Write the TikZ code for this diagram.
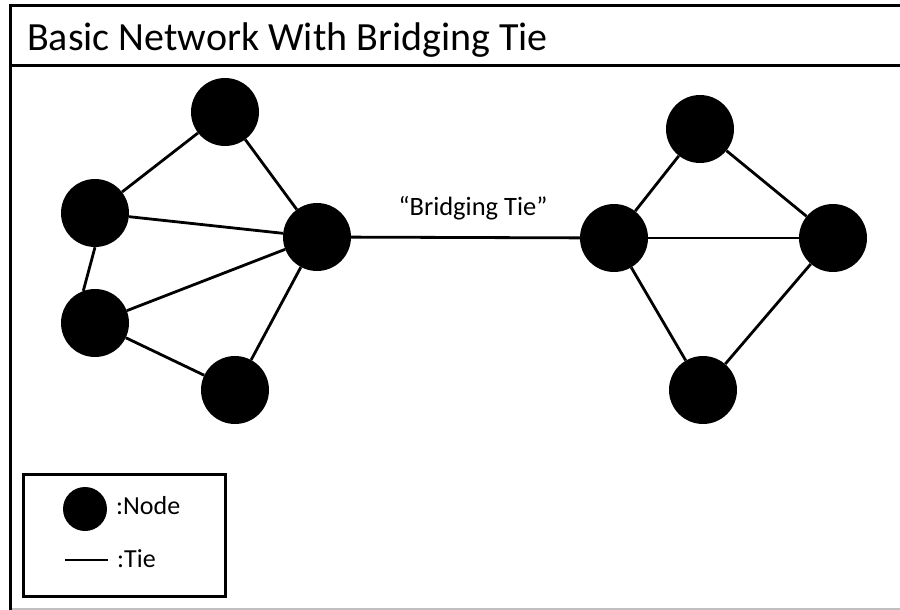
\documentclass[tikz,border=0pt]{standalone}
\usepackage{fontspec}
\setmainfont{Carlito}
\begin{document}
\begin{tikzpicture}[x=1pt,y=-1pt,
  vertex/.style={circle,fill=black,draw=none,minimum size=68pt,inner sep=0pt},
  legvertex/.style={circle,fill=black,draw=none,minimum size=44pt,inner sep=0pt},
  tie/.style={line width=2.8pt},
  frame/.style={line width=3pt},
  label/.style={inner sep=0pt,anchor=base west}]
\useasboundingbox (0,0) rectangle (900,610);
% outer frame and title bar
\draw[frame] (900,6) -- (10,6) -- (10,610);
\draw[frame] (10,66) -- (900,66);
\draw[line width=1.5pt,black!25] (12,609) -- (900,609);
\node[label,font=\fontsize{40}{44}\selectfont] (title) at (27,51) {Basic Network With Bridging Tie};
% left cluster
\node[vertex] (la) at (225,112) {};
\node[vertex] (lb) at (95,213) {};
\node[vertex] (lh) at (317,237) {};
\node[vertex] (lc) at (95,323) {};
\node[vertex] (ld) at (235,390) {};
% right cluster
\node[vertex] (ra) at (700,129) {};
\node[vertex] (rh) at (614,238) {};
\node[vertex] (rb) at (833,238) {};
\node[vertex] (rc) at (703,390) {};
% ties
\draw[tie] (la) -- (lb);
\draw[tie] (la) -- (lh);
\draw[tie] (lb) -- (lh);
\draw[tie] (lb.-90) -- (lc.110);
\draw[tie] (lc) -- (lh);
\draw[tie] (lc) -- (ld);
\draw[tie] (ld) -- (lh);
\draw[tie] (lh) -- (rh);
\draw[tie] (rh) -- (ra);
\draw[tie] (ra) -- (rb);
\draw[tie] (rh) -- (rb);
\draw[tie] (rh) -- (rc);
\draw[tie] (rc) -- (rb);
\node[font=\fontsize{26.5}{30}\selectfont] (bridge) at (473,208) {“Bridging Tie”};
% legend
\draw[frame] (23,474) rectangle (225,596);
\node[legvertex] (legnode) at (85,509) {};
\node[font=\fontsize{26}{30}\selectfont,anchor=west,inner sep=0pt] (legnodetext) at (116,506) {:Node};
\coordinate (legtiea) at (65,560);
\coordinate (legtieb) at (108,560);
\draw[tie] (legtiea) -- (legtieb);
\node[font=\fontsize{26}{30}\selectfont,anchor=west,inner sep=0pt] (legtietext) at (117,559) {:Tie};
\end{tikzpicture}
\end{document}
